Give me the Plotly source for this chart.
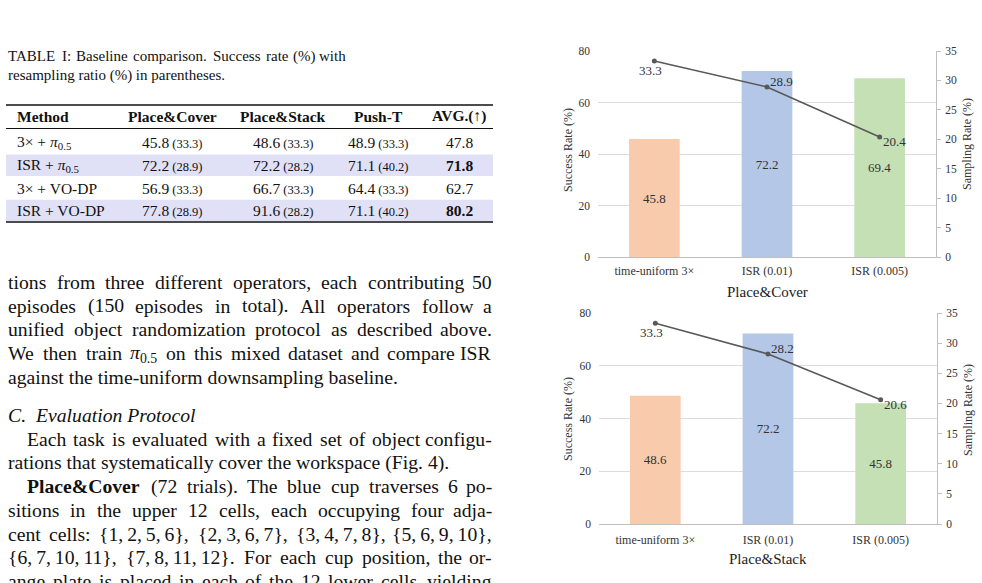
import re
import plotly.graph_objects as go

# ---------------- data ----------------
categories = ["time-uniform 3×", "ISR (0.01)", "ISR (0.005)"]
cover_success = [45.8, 72.2, 69.4]
cover_sampling = [33.3, 28.9, 20.4]
stack_success = [48.6, 72.2, 45.8]
stack_sampling = [33.3, 28.2, 20.6]
bar_colors = ["#F8CBAD", "#B4C7E7", "#C5E0B4"]

table_headers = ["Method", "Place&Cover", "Place&Stack", "Push-T", "AVG.(↑)"]
table_methods = ["3× + <i>π</i><sub>0.5</sub>", "ISR + <i>π</i><sub>0.5</sub>",
                 "3× + VO-DP", "ISR + VO-DP"]
cover_sr = [45.8, 72.2, 56.9, 77.8]
cover_rr = [33.3, 28.9, 33.3, 28.9]
stack_sr = [48.6, 72.2, 66.7, 91.6]
stack_rr = [33.3, 28.2, 33.3, 28.2]
pusht_sr = [48.9, 71.1, 64.4, 71.1]
pusht_rr = [33.3, 40.2, 33.3, 40.2]
avg_sr = [47.8, 71.8, 62.7, 80.2]
best_rows = [False, True, False, True]
shaded_rows = [False, True, False, True]

W_FIG, H_FIG = 982, 583
SERIF = "Liberation Serif, Times New Roman, serif"
TXT = "#111111"


def X(px):
    return px / W_FIG


def Y(py):
    return 1 - py / H_FIG


# Times widths (per 1000 em)
WID = {' ': 250, '!': 333, '"': 408, '#': 500, '$': 500, '%': 833, '&': 778, "'": 180,
       '(': 333, ')': 333, '*': 500, '+': 564, ',': 250, '-': 333, '.': 250, '/': 278,
       ':': 278, ';': 278, '<': 564, '=': 564, '>': 564, '?': 444, '@': 921,
       'A': 722, 'B': 667, 'C': 667, 'D': 722, 'E': 611, 'F': 556, 'G': 722, 'H': 722,
       'I': 333, 'J': 389, 'K': 722, 'L': 611, 'M': 889, 'N': 722, 'O': 722, 'P': 556,
       'Q': 722, 'R': 667, 'S': 556, 'T': 611, 'U': 722, 'V': 722, 'W': 944, 'X': 722,
       'Y': 722, 'Z': 611, '[': 333, ']': 333,
       'a': 444, 'b': 500, 'c': 444, 'd': 500, 'e': 444, 'f': 333, 'g': 500, 'h': 500,
       'i': 278, 'j': 278, 'k': 500, 'l': 278, 'm': 778, 'n': 500, 'o': 500, 'p': 500,
       'q': 500, 'r': 333, 's': 389, 't': 278, 'u': 500, 'v': 500, 'w': 722, 'x': 500,
       'y': 500, 'z': 444, '{': 480, '}': 480, 'π': 549, '×': 564, '\u2009': 200}
for d in "0123456789":
    WID[d] = 500


def text_width(s, size):
    total = 0.0
    scale = 1.0
    bold = False
    for part in re.split(r'(<[^>]+>)', s):
        if part.startswith('<'):
            t = part.lower()
            if t == '<sub>':
                scale = 0.7
            elif t == '</sub>':
                scale = 1.0
            elif t == '<b>':
                bold = True
            elif t == '</b>':
                bold = False
            continue
        for ch in part:
            w = WID.get(ch, 500)
            if bold:
                w *= 1.08
            total += w * scale
    return total * size / 1000.0


annotations = []
shapes = []


def txt(x, y, text, size, xanchor="left", yanchor="middle", color=TXT, angle=0,
        family=SERIF):
    annotations.append(dict(x=X(x), y=Y(y), xref="paper", yref="paper", text=text,
                            showarrow=False, xanchor=xanchor, yanchor=yanchor,
                            textangle=angle, borderpad=0,
                            font=dict(family=family, size=size, color=color)))


def line_text(text, y, x0, x1, size, justify):
    if not justify:
        txt(x0, y, text, size)
        return
    toks = text.split(" ")
    widths = [text_width(t, size) for t in toks]
    gap = (x1 - x0 - sum(widths)) / (len(toks) - 1)
    x = x0
    for i, (t, w) in enumerate(zip(toks, widths)):
        if i == len(toks) - 1:
            txt(x1, y, t, size, xanchor="right")
        else:
            txt(x, y, t, size)
        x += w + gap


# ---------------- caption + table ----------------
CAP = 15
line_text("TABLE I: Baseline comparison. Success rate (%) with", 56, 7, 347, CAP, True)
line_text("resampling ratio (%) in parentheses.", 75, 7, 347, CAP, False)

TB = 15.5
col_c = [172, 283, 378, 459]
row_y = [142.5, 165.3, 188, 210.5]
row_h = 22.5

for i, sh in enumerate(shaded_rows):
    if sh:
        shapes.append(dict(type="rect", xref="paper", yref="paper",
                           x0=X(6), x1=X(493), y0=Y(row_y[i] + row_h / 2 - 0.5),
                           y1=Y(row_y[i] - row_h / 2 + 0.5),
                           fillcolor="#E0E0F7", line=dict(width=0), layer="below"))
for yy, wd in [(105, 1.6), (128.5, 1.0), (222, 1.6)]:
    shapes.append(dict(type="line", xref="paper", yref="paper", x0=X(6), x1=X(493),
                       y0=Y(yy), y1=Y(yy), line=dict(color="#111111", width=wd)))

txt(16, 116.5, "<b>" + table_headers[0] + "</b>", TB)
for c, h in zip(col_c, table_headers[1:]):
    txt(c, 116.5, "<b>" + h + "</b>", TB, xanchor="center")


def cell(v, r):
    return f"{v:.1f}<span style='font-size:12.5px'> ({r:.1f})</span>"


for i in range(4):
    y = row_y[i]
    txt(16, y, table_methods[i], TB)
    txt(col_c[0], y, cell(cover_sr[i], cover_rr[i]), TB, xanchor="center")
    txt(col_c[1], y, cell(stack_sr[i], stack_rr[i]), TB, xanchor="center")
    txt(col_c[2], y, cell(pusht_sr[i], pusht_rr[i]), TB, xanchor="center")
    a = f"{avg_sr[i]:.1f}"
    if best_rows[i]:
        a = "<b>" + a + "</b>"
    txt(col_c[3], y, a, TB, xanchor="center")

# ---------------- body text ----------------
BODY = 19.7
LS = 23.7
p1 = [("tions from three different operators, each contributing 50", True),
      ("episodes (150 episodes in total). All operators follow a", True),
      ("unified object randomization protocol as described above.", True),
      ("We then train <i>π</i><sub>0.5</sub> on this mixed dataset and compare ISR", True),
      ("against the time-uniform downsampling baseline.", False)]
y = 282
for t, j in p1:
    line_text(t, y, 7, 493, BODY, j)
    y += LS

txt(7, 415, "<i>C.</i>", BODY)
txt(34, 415, "<i>Evaluation Protocol</i>", BODY)

p2 = [("Each task is evaluated with a fixed set of object configu-", True, 26),
      ("rations that systematically cover the workspace (Fig. 4).", False, 7),
      ("<b>Place&Cover</b> (72 trials). The blue cup traverses 6 po-", True, 26),
      ("sitions in the upper 12 cells, each occupying four adja-", True, 7),
      ("cent cells: {1,\u20092,\u20095,\u20096}, {2,\u20093,\u20096,\u20097}, "
       "{3,\u20094,\u20097,\u20098}, {5,\u20096,\u20099,\u200910},", True, 7),
      ("{6,\u20097,\u200910,\u200911}, {7,\u20098,\u200911,\u200912}. "
       "For each cup position, the or-", True, 7),
      ("ange plate is placed in each of the 12 lower cells, yielding", True, 7)]
y = 438.7
for t, j, x0 in p2:
    line_text(t, y, x0, 493, BODY, j)
    y += LS

# ---------------- charts ----------------
fig = go.Figure()

fig.add_trace(go.Bar(x=categories, y=cover_success, marker=dict(color=bar_colors, line=dict(width=0)),
                     width=0.45, text=[f"{v:.1f}" for v in cover_success],
                     textposition="inside", insidetextanchor="middle",
                     textfont=dict(family=SERIF, size=13, color="#333333"),
                     xaxis="x", yaxis="y", showlegend=False))
fig.add_trace(go.Scatter(x=categories, y=cover_sampling, mode="lines+markers",
                         line=dict(color="#595959", width=1.6),
                         marker=dict(color="#595959", size=5),
                         xaxis="x", yaxis="y2", showlegend=False))
fig.add_trace(go.Bar(x=categories, y=stack_success, marker=dict(color=bar_colors, line=dict(width=0)),
                     width=0.45, text=[f"{v:.1f}" for v in stack_success],
                     textposition="inside", insidetextanchor="middle",
                     textfont=dict(family=SERIF, size=13, color="#333333"),
                     xaxis="x2", yaxis="y3", showlegend=False))
fig.add_trace(go.Scatter(x=categories, y=stack_sampling, mode="lines+markers",
                         line=dict(color="#595959", width=1.6),
                         marker=dict(color="#595959", size=5),
                         xaxis="x2", yaxis="y4", showlegend=False))

label_cfg = [dict(xanchor="center", xshift=-4, yshift=-9),
             dict(xanchor="left", xshift=2, yshift=5),
             dict(xanchor="left", xshift=2, yshift=-5)]
for xa, ya, vals in [("x", "y2", cover_sampling), ("x2", "y4", stack_sampling)]:
    for c, v, cfg in zip(categories, vals, label_cfg):
        annotations.append(dict(x=c, y=v, xref=xa, yref=ya, text=f"{v:.1f}",
                                showarrow=False, yanchor="middle", borderpad=0,
                                font=dict(family=SERIF, size=13, color="#333333"), **cfg))

TICKF = dict(family=SERIF, size=11.5, color="#333333")
XTF = dict(family=SERIF, size=12, color="#333333")


def xax(domain, anchor, standoff):
    return dict(domain=domain, anchor=anchor, type="category", categoryorder="array",
                categoryarray=categories, range=[-0.5, 2.5], showgrid=False,
                showline=True, linecolor="#BFBFBF", linewidth=1, ticks="",
                tickfont=XTF, automargin=False, zeroline=False, fixedrange=True,
                ticklabelstandoff=standoff)


def yleft(domain, anchor):
    return dict(domain=domain, anchor=anchor, range=[0, 80], dtick=20, showgrid=True,
                gridcolor="#DCDCDC", gridwidth=1, showline=False, zeroline=False,
                ticks="", tickfont=TICKF, automargin=False, ticklabelstandoff=7)


def yright(over, anchor):
    return dict(overlaying=over, anchor=anchor, side="right", range=[0, 35], dtick=5,
                showgrid=False, showline=True, linecolor="#BFBFBF", linewidth=1,
                ticks="outside", ticklen=4, tickcolor="#BFBFBF", zeroline=False,
                tickfont=TICKF, automargin=False, ticklabelstandoff=2)


fig.update_layout(
    width=W_FIG, height=H_FIG, margin=dict(l=0, r=0, t=0, b=0, pad=0),
    paper_bgcolor="white", plot_bgcolor="white", showlegend=False,
    xaxis=xax([X(598), X(936)], "y", 3),
    yaxis=yleft([Y(257), Y(51)], "x"),
    yaxis2=yright("y", "x"),
    xaxis2=xax([X(599), X(937)], "y3", 5),
    yaxis3=yleft([Y(524), Y(313)], "x2"),
    yaxis4=yright("y3", "x2"),
    bargap=0.55,
)

# axis titles
txt(568, 150, "Success Rate (%)", 12, xanchor="center", angle=-90, color="#333333")
txt(967, 144, "Sampling Rate (%)", 12, xanchor="center", angle=-90, color="#333333")
txt(767, 292, "Place&Cover", 15, xanchor="center", color="#222222")
txt(568, 419, "Success Rate (%)", 12, xanchor="center", angle=-90, color="#333333")
txt(968, 410, "Sampling Rate (%)", 12, xanchor="center", angle=-90, color="#333333")
txt(768, 559, "Place&Stack", 15, xanchor="center", color="#222222")

fig.update_layout(annotations=annotations, shapes=shapes)
fig.write_html("out.html")
